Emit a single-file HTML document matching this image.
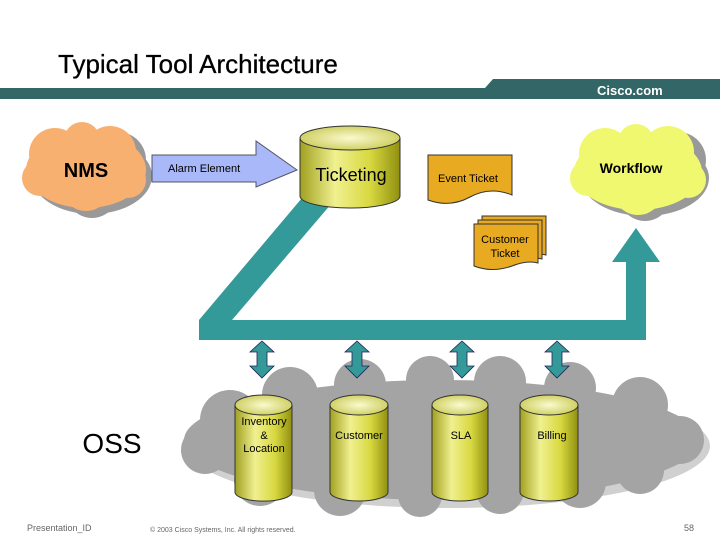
<!DOCTYPE html>
<html><head><meta charset="utf-8"><style>
body{margin:0;width:720px;height:540px;background:#fff;overflow:hidden;font-family:"Liberation Sans",sans-serif}
</style></head><body>
<svg width="720" height="540" viewBox="0 0 720 540" xmlns="http://www.w3.org/2000/svg" font-family="Liberation Sans, sans-serif">
<defs>
<linearGradient id="cyl" x1="0" x2="1" y1="0" y2="0">
<stop offset="0" stop-color="#a0a020"/><stop offset="0.35" stop-color="#f0f090"/><stop offset="0.7" stop-color="#d8d840"/><stop offset="1" stop-color="#909010"/>
</linearGradient>
<radialGradient id="top" cx="0.5" cy="0.5" r="0.6"><stop offset="0" stop-color="#fafad0"/><stop offset="1" stop-color="#c8c850"/></radialGradient>
</defs>
<text x="58" y="73" font-size="26" fill="#000" stroke="#000" stroke-width="0.3">Typical Tool Architecture</text>
<rect x="0" y="88" width="720" height="11" fill="#336666"/>
<polygon points="485,88 493,79 720,79 720,99 480,99" fill="#336666"/>
<text x="597" y="95" font-size="13" font-weight="bold" fill="#fff">Cisco.com</text>

<!-- NMS cloud -->
<g fill="#999">
<ellipse cx="92" cy="176" rx="60" ry="38"/>
<circle cx="60" cy="160" r="28"/><circle cx="118" cy="160" r="28"/><circle cx="92" cy="192" r="26"/>
</g>
<g fill="#f8b070">
<ellipse cx="86" cy="170" rx="60" ry="38"/>
<circle cx="55" cy="154" r="26"/><circle cx="110" cy="152" r="26"/><circle cx="86" cy="186" r="25"/>
<circle cx="40" cy="178" r="18"/><circle cx="128" cy="180" r="18"/><circle cx="82" cy="140" r="18"/>
</g>
<text x="86" y="177" font-size="20" font-weight="bold" text-anchor="middle">NMS</text>

<!-- Arrow -->
<polygon points="152,155 256,155 256,141 297,170 256,187 256,182 152,182" fill="#a8b8f8" stroke="#556" stroke-width="1"/>
<text x="168" y="172" font-size="11">Alarm Element</text>

<!-- Teal path -->
<polygon points="302,198 332,203 232,320 626,320 626,262 612,262 636,228 660,262 646,262 646,340 199,340 199,320" fill="#339999"/>

<!-- Ticketing cylinder -->
<path d="M300,138 L300,196 A50,12 0 0 0 400,196 L400,138" fill="url(#cyl)" stroke="#333"/>
<ellipse cx="350" cy="138" rx="50" ry="12" fill="url(#top)" stroke="#333"/>
<text x="351" y="181" font-size="18" text-anchor="middle">Ticketing</text>

<!-- Event ticket -->
<path d="M428,155 L512,155 L512,195 Q490,186 470,197 Q450,208 428,200 Z" fill="#e8aa20" stroke="#333"/>
<text x="468" y="182" font-size="11" text-anchor="middle">Event Ticket</text>

<!-- Customer ticket stack -->
<path d="M482,216 L546,216 L546,255 Q535,252 520,258 Q500,265 482,258 Z" fill="#e8aa20" stroke="#333"/>
<path d="M478,220 L542,220 L542,259 Q531,256 516,262 Q496,269 478,262 Z" fill="#e8aa20" stroke="#333"/>
<path d="M474,224 L538,224 L538,263 Q527,260 512,266 Q492,273 474,266 Z" fill="#e8aa20" stroke="#333"/>
<text x="505" y="243" font-size="11" text-anchor="middle">Customer</text>
<text x="505" y="257" font-size="11" text-anchor="middle">Ticket</text>

<!-- Workflow cloud -->
<g fill="#999">
<ellipse cx="645" cy="178" rx="64" ry="38"/>
<circle cx="612" cy="160" r="28"/><circle cx="678" cy="160" r="28"/><circle cx="645" cy="195" r="26"/>
</g>
<g fill="#f0f870">
<ellipse cx="638" cy="172" rx="64" ry="38"/>
<circle cx="605" cy="154" r="26"/><circle cx="668" cy="152" r="26"/><circle cx="638" cy="190" r="25"/>
<circle cx="588" cy="178" r="18"/><circle cx="688" cy="180" r="18"/><circle cx="636" cy="142" r="18"/>
</g>
<text x="631" y="173" font-size="14" font-weight="bold" text-anchor="middle">Workflow</text>

<!-- Gray cloud -->
<g fill="#d0d0d0">
<ellipse cx="448" cy="446" rx="262" ry="62"/>
</g>
<g fill="#a4a4a4">
<ellipse cx="442" cy="440" rx="258" ry="60"/>
<circle cx="230" cy="420" r="30"/><circle cx="290" cy="395" r="28"/><circle cx="360" cy="385" r="26"/>
<circle cx="430" cy="380" r="24"/><circle cx="500" cy="382" r="26"/><circle cx="570" cy="388" r="26"/>
<circle cx="640" cy="405" r="28"/><circle cx="680" cy="440" r="24"/>
<circle cx="205" cy="450" r="24"/><circle cx="260" cy="480" r="26"/><circle cx="340" cy="490" r="26"/>
<circle cx="420" cy="495" r="22"/><circle cx="500" cy="490" r="24"/><circle cx="580" cy="482" r="26"/><circle cx="640" cy="470" r="24"/>
</g>
<text x="112" y="453" font-size="28" text-anchor="middle">OSS</text>

<!-- double arrows -->
<g fill="#339999" stroke="#225" stroke-width="0.8">
<polygon points="262,341 274,352 267,352 267,366 274,366 262,378 250,366 257,366 257,352 250,352"/>
<polygon points="357,341 369,352 362,352 362,366 369,366 357,378 345,366 352,366 352,352 345,352"/>
<polygon points="462,341 474,352 467,352 467,366 474,366 462,378 450,366 457,366 457,352 450,352"/>
<polygon points="557,341 569,352 562,352 562,366 569,366 557,378 545,366 552,366 552,352 545,352"/>
</g>

<!-- cylinders -->
<g stroke="#333">
<path d="M235,405 L235,492 A28,9 0 0 0 292,492 L292,405" fill="url(#cyl)"/><ellipse cx="263.5" cy="405" rx="28.5" ry="10" fill="url(#top)"/>
<path d="M330,405 L330,492 A29,9 0 0 0 388,492 L388,405" fill="url(#cyl)"/><ellipse cx="359" cy="405" rx="29" ry="10" fill="url(#top)"/>
<path d="M432,405 L432,492 A28,9 0 0 0 488,492 L488,405" fill="url(#cyl)"/><ellipse cx="460" cy="405" rx="28" ry="10" fill="url(#top)"/>
<path d="M520,405 L520,492 A29,9 0 0 0 578,492 L578,405" fill="url(#cyl)"/><ellipse cx="549" cy="405" rx="29" ry="10" fill="url(#top)"/>
</g>
<g font-size="11" text-anchor="middle">
<text x="264" y="425">Inventory</text><text x="264" y="439">&amp;</text><text x="264" y="452">Location</text>
<text x="359" y="439">Customer</text>
<text x="461" y="439">SLA</text>
<text x="552" y="439">Billing</text>
</g>

<text x="27" y="531" font-size="9" fill="#666">Presentation_ID</text>
<text x="150" y="532" font-size="7" fill="#666">© 2003 Cisco Systems, Inc. All rights reserved.</text>
<text x="684" y="531" font-size="9" fill="#666">58</text>
</svg>
</body></html>
